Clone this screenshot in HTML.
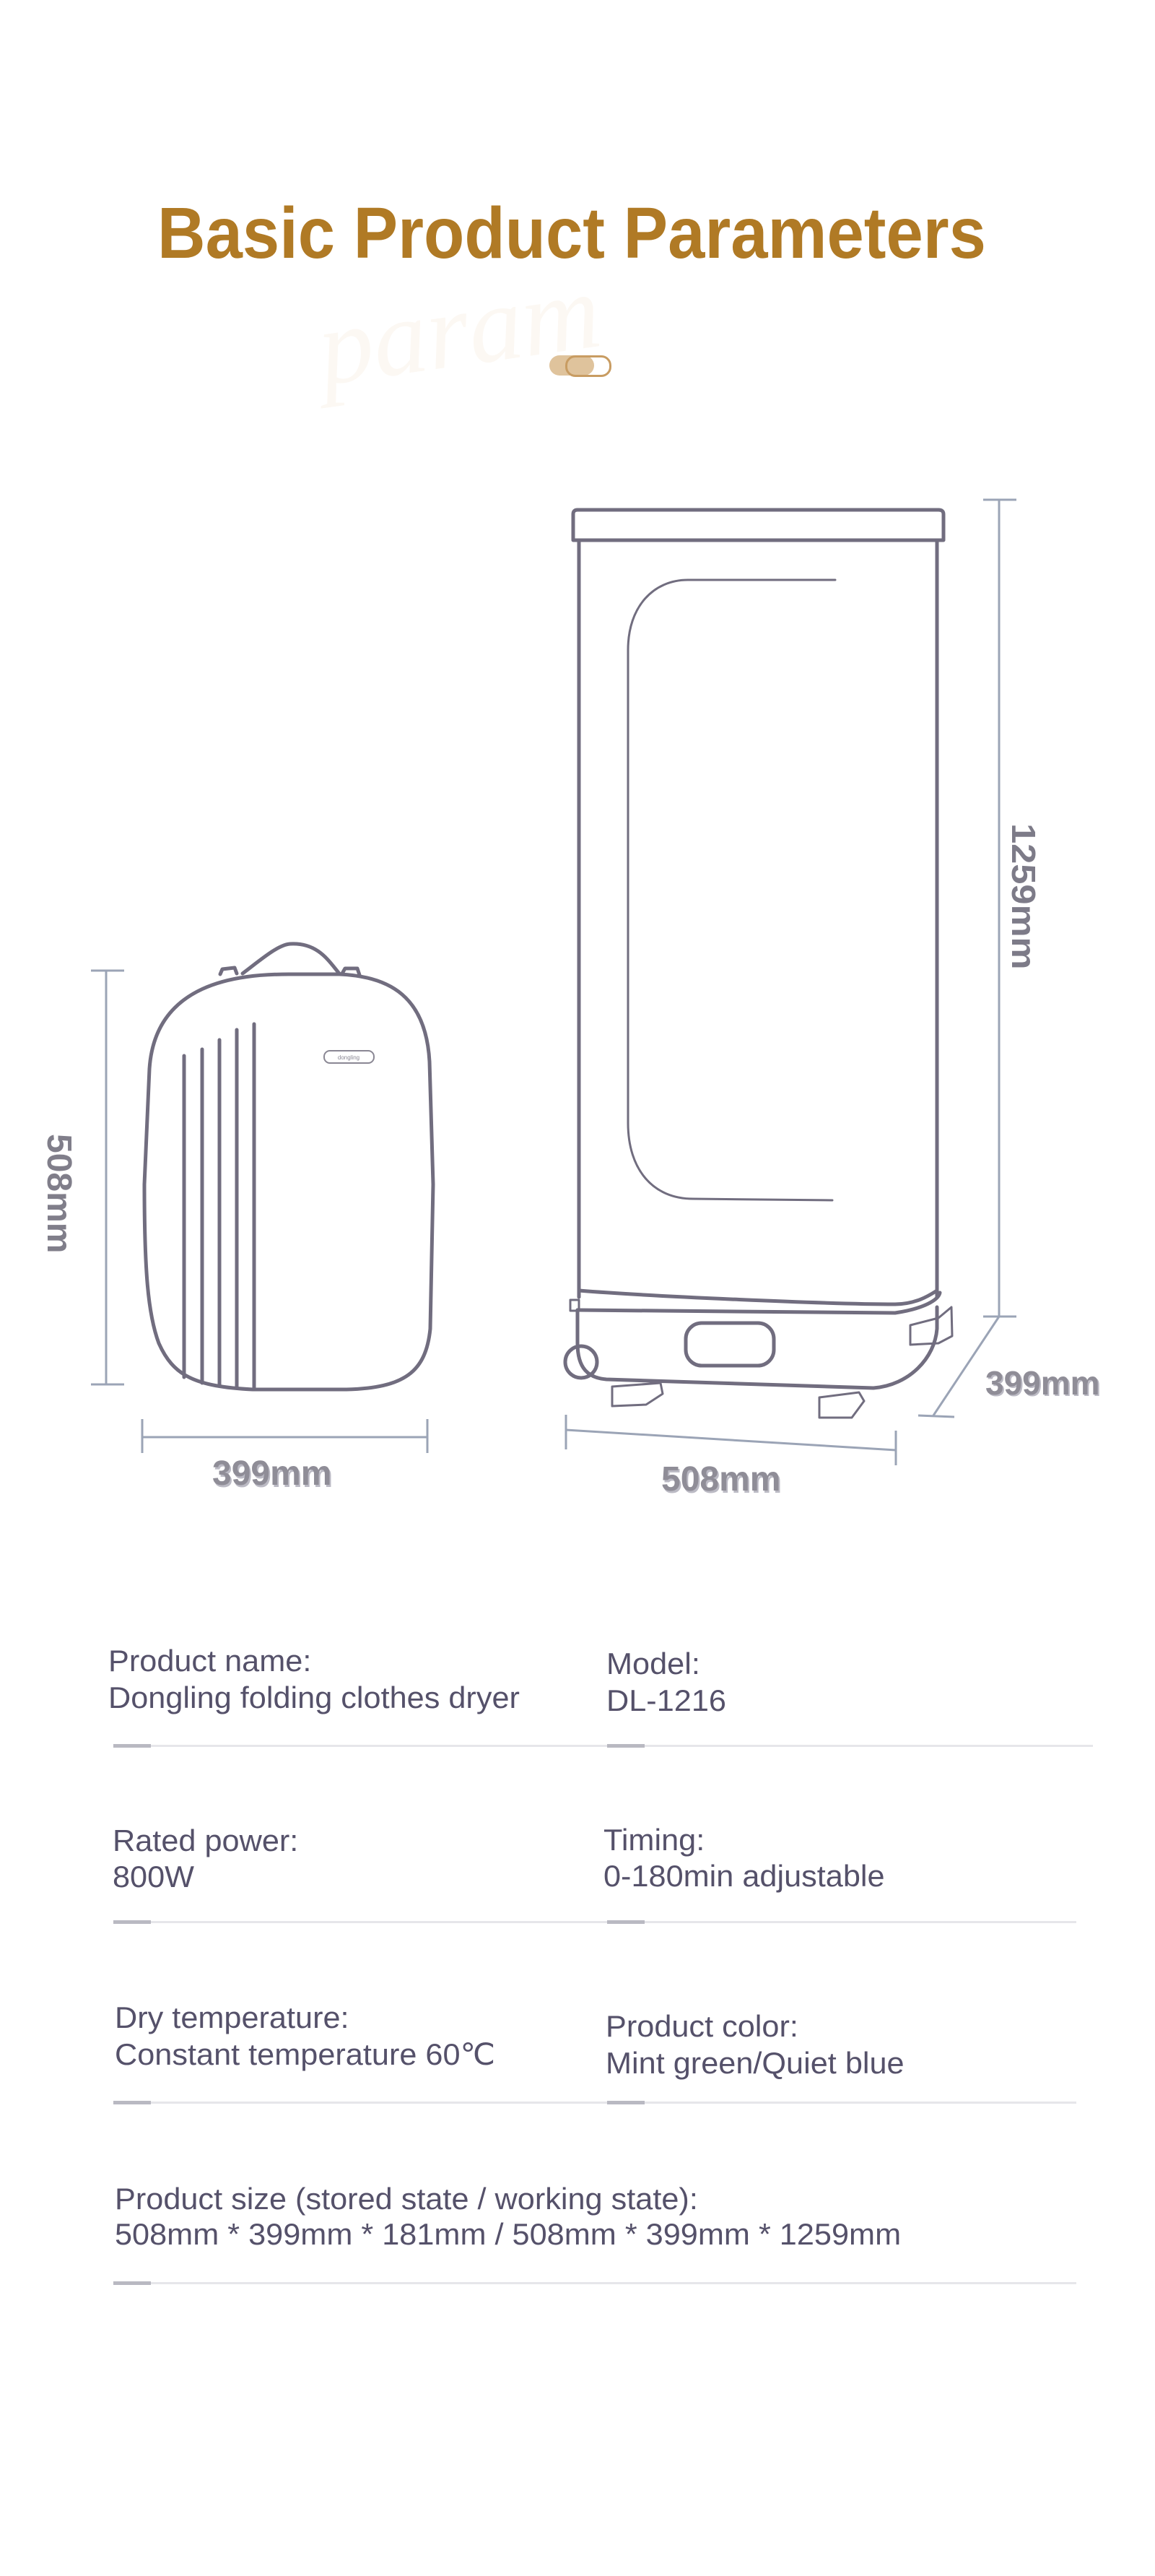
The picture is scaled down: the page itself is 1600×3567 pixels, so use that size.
<!DOCTYPE html>
<html><head><meta charset="utf-8"><style>
html,body{margin:0;padding:0;background:#fff;}
body{width:1600px;height:3567px;position:relative;overflow:hidden;font-family:"Liberation Sans",sans-serif;}
.t{position:absolute;color:#55516a;font-size:42px;line-height:1;white-space:nowrap;transform-origin:0 0;transform:scaleX(1.03);}
.ln{position:absolute;height:3px;background:#e6e6ea;}
.dk{position:absolute;height:5px;width:52px;background:#b9b9c2;}
</style></head><body>
<div style="position:absolute;left:218px;top:266px;font-size:100px;font-weight:bold;color:#b07a25;white-space:nowrap;transform-origin:0 0;transform:scaleX(0.922);">Basic Product Parameters</div>
<div style="position:absolute;left:440px;top:370px;font-family:'Liberation Serif',serif;font-style:italic;font-size:150px;color:#fcf8f3;transform:rotate(-8deg);">param</div>
<div style="position:absolute;left:761px;top:492px;width:62px;height:28px;border-radius:14px;background:#dfc39c;"></div>
<div style="position:absolute;left:783px;top:492px;width:58px;height:24px;border-radius:14px;border:3px solid #c89c62;"></div>

<svg width="1600" height="3567" style="position:absolute;left:0;top:0" xmlns="http://www.w3.org/2000/svg">
<g fill="none" stroke="#9ba4b6" stroke-width="3">
<line x1="147" y1="1344" x2="147" y2="1917"/><line x1="126" y1="1344" x2="172" y2="1344"/><line x1="126" y1="1917" x2="172" y2="1917"/>
<line x1="197" y1="1990" x2="592" y2="1990"/><line x1="197" y1="1965" x2="197" y2="2012"/><line x1="592" y1="1965" x2="592" y2="2012"/>
<line x1="1384" y1="692" x2="1384" y2="1823"/><line x1="1362" y1="692" x2="1408" y2="692"/><line x1="1362" y1="1823" x2="1408" y2="1823"/>
<line x1="1384" y1="1823" x2="1293" y2="1960"/><line x1="1272" y1="1960" x2="1322" y2="1962"/>
<line x1="784" y1="1980" x2="1241" y2="2008"/><line x1="784" y1="1959" x2="784" y2="2007"/><line x1="1241" y1="1981" x2="1241" y2="2029"/>
</g>
<g fill="none" stroke="#716d7f" stroke-width="5" stroke-linecap="round" stroke-linejoin="round">
<path d="M400 1349 C330 1349 215 1360 207 1480 L200 1640 C200 1760 205 1820 220 1860 C240 1905 270 1920 350 1924 L480 1924 C560 1922 590 1900 596 1840 L600 1640 L595 1470 C590 1380 540 1352 470 1349 Z"/>
<path d="M336 1348 C360 1330 385 1308 402 1307 C440 1305 455 1330 470 1348"/>
<path d="M305 1349 L308 1342 L325 1340 L328 1348"/><path d="M474 1348 L478 1341 L495 1341 L498 1350"/>
<line x1="255" y1="1462" x2="255" y2="1907"/><line x1="280" y1="1453" x2="280" y2="1915"/><line x1="304" y1="1440" x2="304" y2="1919"/><line x1="328" y1="1426" x2="328" y2="1921"/><line x1="352" y1="1418" x2="352" y2="1923"/>
</g>
<rect x="449" y="1455" width="69" height="17" rx="8" fill="none" stroke="#8a8794" stroke-width="2"/>
<text x="483" y="1467" font-size="8" text-anchor="middle" fill="#8a8794" font-family="Liberation Sans">dongling</text>
<g fill="none" stroke="#716d7f" stroke-width="5" stroke-linecap="round" stroke-linejoin="round">
<path d="M800 706 L1300 706 Q1307 706 1307 712 L1307 748 L794 748 L794 712 Q794 706 800 706 Z"/>
<path d="M802 748 L802 1796"/><path d="M1298 748 L1298 1796"/>
<path d="M1157 803 L953 803 C905 803 870 840 870 900 L870 1555 C870 1620 905 1660 960 1660 L1153 1662" stroke-width="3"/>
<path d="M802 1787 C900 1795 1150 1806 1240 1806 C1270 1806 1290 1792 1298 1787"/>
<path d="M800 1814 L1240 1818 C1280 1812 1300 1800 1302 1790"/>
<path d="M800 1814 L800 1860 C800 1895 815 1908 840 1910 L1210 1922 C1260 1918 1295 1880 1298 1840 L1298 1810"/>
<circle cx="805" cy="1886" r="22"/>
<path d="M790 1800 L802 1800 L802 1815 L790 1815 Z" stroke-width="3"/>
<rect x="950" y="1832" width="122" height="59" rx="22"/>
<path d="M1261 1835 L1300 1825 L1318 1810 L1319 1850 L1300 1860 L1261 1862 Z" stroke-width="3"/>
<path d="M848 1920 L915 1915 L918 1930 L895 1945 L848 1947 Z" stroke-width="3"/>
<path d="M1135 1935 L1190 1928 L1197 1940 L1180 1963 L1135 1963 Z" stroke-width="3"/>
</g>
</svg>

<div style="position:absolute;left:64px;top:1570px;font-size:48px;font-weight:bold;color:#807e8a;transform-origin:0 0;transform:rotate(90deg) translate(0,-45px);white-space:nowrap;">508mm</div>
<div style="position:absolute;left:294px;top:2013px;font-size:48px;font-weight:bold;color:#8f8d97;white-space:nowrap;text-shadow:2px 3px 0 #bbbac4;">399mm</div>
<div style="position:absolute;left:916px;top:2021px;font-size:48px;font-weight:bold;color:#8f8d97;white-space:nowrap;text-shadow:2px 3px 0 #bbbac4;">508mm</div>
<div style="position:absolute;left:1365px;top:1888px;font-size:46px;font-weight:bold;color:#8f8d97;white-space:nowrap;text-shadow:2px 2px 0 #bbbac4;">399mm</div>
<div style="position:absolute;left:1400px;top:1140px;font-size:46px;font-weight:bold;color:#7d7b88;transform-origin:0 0;transform:rotate(90deg) translate(0,-45px) scaleX(1.1);white-space:nowrap;">1259mm</div>

<div class="t" style="left:150px;top:2279px;">Product name:</div>
<div class="t" style="left:150px;top:2330px;">Dongling folding clothes dryer</div>
<div class="t" style="left:840px;top:2283px;">Model:</div>
<div class="t" style="left:840px;top:2334px;">DL-1216</div>
<div class="ln" style="left:157px;top:2416px;width:1357px;"></div>
<div class="dk" style="left:157px;top:2415px;"></div><div class="dk" style="left:841px;top:2415px;"></div>

<div class="t" style="left:156px;top:2528px;">Rated power:</div>
<div class="t" style="left:156px;top:2578px;">800W</div>
<div class="t" style="left:836px;top:2527px;">Timing:</div>
<div class="t" style="left:836px;top:2577px;">0-180min adjustable</div>
<div class="ln" style="left:157px;top:2660px;width:1334px;"></div>
<div class="dk" style="left:157px;top:2659px;"></div><div class="dk" style="left:841px;top:2659px;"></div>

<div class="t" style="left:159px;top:2773px;">Dry temperature:</div>
<div class="t" style="left:159px;top:2824px;">Constant temperature 60℃</div>
<div class="t" style="left:839px;top:2785px;">Product color:</div>
<div class="t" style="left:839px;top:2836px;">Mint green/Quiet blue</div>
<div class="ln" style="left:157px;top:2910px;width:1334px;"></div>
<div class="dk" style="left:157px;top:2909px;"></div><div class="dk" style="left:841px;top:2909px;"></div>

<div class="t" style="left:159px;top:3024px;">Product size (stored state / working state):</div>
<div class="t" style="left:159px;top:3073px;">508mm * 399mm * 181mm / 508mm * 399mm * 1259mm</div>
<div class="ln" style="left:157px;top:3160px;width:1334px;"></div>
<div class="dk" style="left:157px;top:3159px;"></div>
</body></html>
